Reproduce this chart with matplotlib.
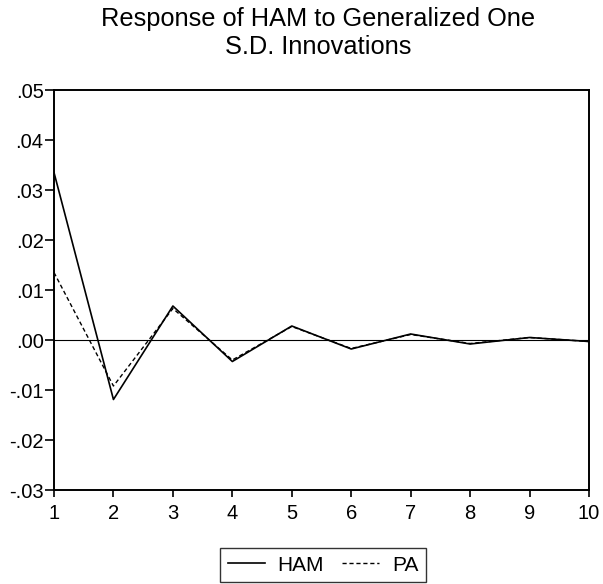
import matplotlib
matplotlib.use("Agg")
import matplotlib.pyplot as plt
from matplotlib.ticker import FuncFormatter

periods = [1, 2, 3, 4, 5, 6, 7, 8, 9, 10]
ham = [0.0335, -0.0119, 0.0068, -0.0043, 0.0028, -0.0018, 0.0012, -0.0008, 0.0005, -0.0003]
pa = [0.0135, -0.0092, 0.0063, -0.0040, 0.0027, -0.0017, 0.0011, -0.0007, 0.0005, -0.0003]
y_ticks = [-0.03, -0.02, -0.01, 0.00, 0.01, 0.02, 0.03, 0.04, 0.05]

plt.rcParams["font.family"] = ["Liberation Sans", "DejaVu Sans"]


def fmt(v, pos):
    s = "%.2f" % v
    if s.startswith("-0"):
        return "-" + s[2:]
    if s.startswith("0"):
        return s[1:]
    return s


fig = plt.figure(figsize=(6.03, 5.84), dpi=100)
ax = fig.add_axes([54 / 603, 1 - 490 / 584, 535 / 603, 400 / 584])

ax.axhline(0, color="black", linewidth=0.8)
ax.plot(periods, ham, color="black", linewidth=1.2, label="HAM")
ax.plot(periods, pa, color="black", linewidth=1.0, linestyle=(0, (3, 2)), label="PA")

ax.set(xlim=(1, 10), ylim=(-0.03, 0.05), xticks=periods, yticks=y_ticks)
ax.yaxis.set_major_formatter(FuncFormatter(fmt))
ax.tick_params(direction="out", width=1.2, labelsize=14.5)
ax.tick_params(axis="y", length=6.5, pad=1)
ax.tick_params(axis="x", length=5, pad=5)
for sp in ax.spines.values():
    sp.set_linewidth(1.4)

fig.text(318 / 603, 1 - 7 / 584, "Response of HAM to Generalized One\nS.D. Innovations",
         ha="center", va="top", fontsize=18.3, linespacing=1.2)

fig.legend(loc="lower center", bbox_to_anchor=(323 / 603, 0.0), ncol=2, frameon=True,
           fancybox=False, edgecolor="black", fontsize=15, handlelength=1.8,
           handletextpad=0.6, columnspacing=0.85, borderpad=0.35, borderaxespad=0.1)

fig.savefig("out.png", dpi=100)
